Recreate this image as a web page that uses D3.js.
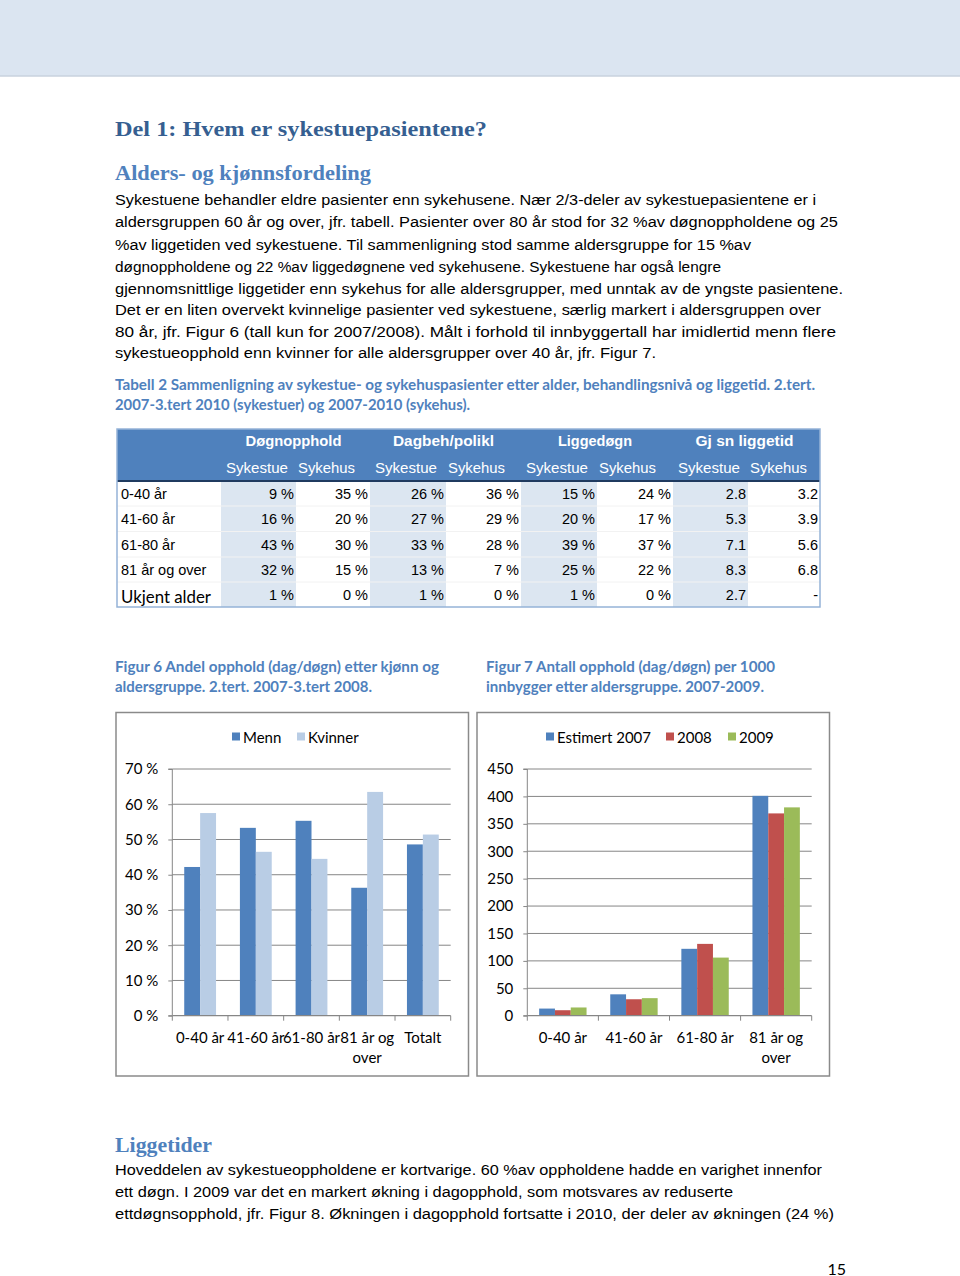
<!DOCTYPE html>
<html><head><meta charset="utf-8">
<script src="https://cdn.jsdelivr.net/npm/d3@7"></script>
<style>body{margin:0;background:#fff}svg{display:block}</style>
</head><body>
<script>
// ---------- DATA ----------
const heading1 = "Del 1: Hvem er sykestuepasientene?";
const heading2 = "Alders- og kjønnsfordeling";
const para1 = [
  "Sykestuene behandler eldre pasienter enn sykehusene. Nær 2/3-deler av sykestuepasientene er i",
  "aldersgruppen 60 år og over, jfr. tabell. Pasienter over 80 år stod for 32 %av døgnoppholdene og 25",
  "%av liggetiden ved sykestuene. Til sammenligning stod samme aldersgruppe for 15 %av",
  "døgnoppholdene og 22 %av liggedøgnene ved sykehusene. Sykestuene har også lengre",
  "gjennomsnittlige liggetider enn sykehus for alle aldersgrupper, med unntak av de yngste pasientene.",
  "Det er en liten overvekt kvinnelige pasienter ved sykestuene, særlig markert i aldersgruppen over",
  "80 år, jfr. Figur 6 (tall kun for 2007/2008). Målt i forhold til innbyggertall har imidlertid menn flere",
  "sykestueopphold enn kvinner for alle aldersgrupper over 40 år, jfr. Figur 7."
];
const tableCaption = [
  "Tabell 2 Sammenligning av sykestue- og sykehuspasienter etter alder, behandlingsnivå og liggetid. 2.tert.",
  "2007-3.tert 2010 (sykestuer) og 2007-2010 (sykehus)."
];
const tableGroups = ["Døgnopphold", "Dagbeh/polikl", "Liggedøgn", "Gj sn liggetid"];
const tableSub = ["Sykestue", "Sykehus"];
const tableRows = ["0-40 år", "41-60 år", "61-80 år", "81 år og over", "Ukjent alder"];
const tableValues = [
  ["9 %", "35 %", "26 %", "36 %", "15 %", "24 %", "2.8", "3.2"],
  ["16 %", "20 %", "27 %", "29 %", "20 %", "17 %", "5.3", "3.9"],
  ["43 %", "30 %", "33 %", "28 %", "39 %", "37 %", "7.1", "5.6"],
  ["32 %", "15 %", "13 %", "7 %", "25 %", "22 %", "8.3", "6.8"],
  ["1 %", "0 %", "1 %", "0 %", "1 %", "0 %", "2.7", "-"]
];
const fig6Caption = ["Figur 6 Andel opphold (dag/døgn) etter kjønn og", "aldersgruppe. 2.tert. 2007-3.tert 2008."];
const fig7Caption = ["Figur 7 Antall opphold (dag/døgn) per 1000", "innbygger etter aldersgruppe. 2007-2009."];
const fig6Categories = ["0-40 år", "41-60 år", "61-80 år", "81 år og over", "Totalt"];
const fig6Series = ["Menn", "Kvinner"];
const fig6Menn = [42.2, 53.3, 55.3, 36.3, 48.6];
const fig6Kvinner = [57.5, 46.5, 44.5, 63.5, 51.4];
const fig6Ticks = [0, 10, 20, 30, 40, 50, 60, 70];
const fig7Categories = ["0-40 år", "41-60 år", "61-80 år", "81 år og over"];
const fig7Series = ["Estimert 2007", "2008", "2009"];
const fig7Est2007 = [13, 39, 122, 401];
const fig7Y2008 = [10, 30, 131, 369];
const fig7Y2009 = [15, 32, 106, 380];
const fig7Ticks = [0, 50, 100, 150, 200, 250, 300, 350, 400, 450];
const heading3 = "Liggetider";
const para2 = [
  "Hoveddelen av sykestueoppholdene er kortvarige. 60 %av oppholdene hadde en varighet innenfor",
  "ett døgn. I 2009 var det en markert økning i dagopphold, som motsvares av reduserte",
  "ettdøgnsopphold, jfr. Figur 8. Økningen i dagopphold fortsatte i 2010, der deler av økningen (24 %)"
];
const pageNumber = "15";

// ---------- LAYOUT / STYLE ----------
const BODY = "'Liberation Sans Narrow','Liberation Sans',Arial,sans-serif";
const SANS = "'Liberation Sans',Arial,sans-serif";
const SERIF = "'Liberation Serif','DejaVu Serif',serif";
const CAL = "Lato,'Open Sans',sans-serif";
const C_BLUE = "#4f81bd", C_DARK = "#365f91", C_LIGHT = "#b9cde5", C_RED = "#c0504d", C_GREEN = "#9bbb59";

const svg = d3.select("body").append("svg").attr("width", 960).attr("height", 1276);

function txt(g, s, x, yc, o) {
  o = o || {};
  const t = g.append("text").attr("x", x).attr("y", yc)
    .attr("dominant-baseline", "central")
    .attr("font-family", o.font || BODY)
    .attr("font-size", o.size || 15)
    .attr("font-weight", o.weight || "normal")
    .attr("fill", o.fill || "#000")
    .attr("text-anchor", o.anchor || "start")
    .text(s);
  if (o.width) t.attr("textLength", o.width).attr("lengthAdjust", "spacingAndGlyphs");
  return t;
}

// top band
svg.append("rect").attr("x", 0).attr("y", 0).attr("width", 960).attr("height", 76).attr("fill", "#dbe5f1");
svg.append("line").attr("x1", 0).attr("x2", 960).attr("y1", 76).attr("y2", 76).attr("stroke", "#c8d2de").attr("stroke-width", 1.5);

// headings
txt(svg, heading1, 115, 128, {font: SERIF, size: 22, weight: "bold", fill: C_DARK, width: 372});
txt(svg, heading2, 115, 173, {font: SERIF, size: 21, weight: "bold", fill: C_BLUE, width: 256});

// paragraph 1
const p1Ends = [816, 838, 751, 721, 843, 821, 836, 656];
const p1Y = [199, 221, 244, 266, 288, 309, 331, 352];
para1.forEach((s, i) => txt(svg, s, 115, p1Y[i], {size: 15.5, width: p1Ends[i] - 115}));

// table caption
const tcEnds = [815, 470];
tableCaption.forEach((s, i) => txt(svg, s, 115, 384 + i * 20.5, {font: CAL, size: 14.5, weight: "bold", fill: C_BLUE, width: tcEnds[i] - 115}));

// ---------- TABLE ----------
const tg = svg.append("g");
const colEdges = [117, 221, 296, 370, 446, 521, 597, 673, 748, 820];
const rowEdges = [481, 506, 531.5, 557, 582, 607];
// header
tg.append("rect").attr("x", 117).attr("y", 429).attr("width", 703).attr("height", 52).attr("fill", C_BLUE);
// shaded columns
for (let k = 0; k < 4; k++) {
  tg.append("rect").attr("x", colEdges[1 + 2 * k]).attr("y", 481)
    .attr("width", colEdges[2 + 2 * k] - colEdges[1 + 2 * k]).attr("height", 126).attr("fill", "#dce6f1");
}
// row separators
rowEdges.slice(1, -1).forEach(y => tg.append("line").attr("x1", 117).attr("x2", 820).attr("y1", y).attr("y2", y).attr("stroke", "#f2f2f2").attr("stroke-width", 1));
// header bottom line
tg.append("line").attr("x1", 117).attr("x2", 820).attr("y1", 481).attr("y2", 481).attr("stroke", "#1f3a5f").attr("stroke-width", 2);
// outer border
tg.append("rect").attr("x", 117).attr("y", 429).attr("width", 703).attr("height", 178).attr("fill", "none").attr("stroke", "#95b3d7").attr("stroke-width", 1.5);
// group titles
const grpW = [96, 101, 74, 98];
tableGroups.forEach((s, k) => {
  const cx = (colEdges[1 + 2 * k] + colEdges[3 + 2 * k]) / 2 - 2;
  txt(tg, s, cx - grpW[k] / 2, 441, {font: SANS, size: 14.5, weight: "bold", fill: "#fff", width: grpW[k]});
});
// sub headers
for (let k = 0; k < 4; k++) {
  txt(tg, tableSub[0], colEdges[1 + 2 * k] + 5, 467.5, {font: SANS, size: 14.5, fill: "#fff", width: 62});
  txt(tg, tableSub[1], colEdges[2 + 2 * k] + 2, 467.5, {font: SANS, size: 14.5, fill: "#fff", width: 57});
}
// rows
tableRows.forEach((r, i) => {
  const yc = (rowEdges[i] + rowEdges[i + 1]) / 2 + 0.5;
  if (i === 4) txt(tg, r, 121, yc + 1, {font: CAL, size: 17, width: 90});
  else txt(tg, r, 121, yc, {font: SANS, size: 14.5});
  tableValues[i].forEach((v, j) => {
    txt(tg, v, colEdges[j + 2] - 2, yc, {font: SANS, size: 14.5, anchor: "end"});
  });
});

// captions for figures
const f6Ends = [439, 372], f7Ends = [775, 764];
fig6Caption.forEach((s, i) => txt(svg, s, 115, 666.5 + i * 19.5, {font: CAL, size: 14.5, weight: "bold", fill: C_BLUE, width: f6Ends[i] - 115}));
fig7Caption.forEach((s, i) => txt(svg, s, 486, 666.5 + i * 19.5, {font: CAL, size: 14.5, weight: "bold", fill: C_BLUE, width: f7Ends[i] - 486}));

// ---------- CHART helper ----------
function barChart(o) {
  const g = svg.append("g");
  g.append("rect").attr("x", o.frame[0]).attr("y", o.frame[1]).attr("width", o.frame[2]).attr("height", o.frame[3])
    .attr("fill", "#fff").attr("stroke", "#8a8a8a").attr("stroke-width", 1.5);
  const y = d3.scaleLinear().domain([0, o.max]).range([o.y0, o.y1]);
  const x = d3.scaleBand().domain(o.categories).range([o.x0, o.x1]).padding(0);
  const nS = o.series.length;
  const barW = x.step() / (nS + 1.5);
  const xs = d3.scaleBand().domain(o.series).range([0, barW * nS]).padding(0);
  // gridlines
  g.selectAll(".grid").data(o.ticks.filter(t => t > 0)).join("line")
    .attr("x1", o.x0).attr("x2", o.x1).attr("y1", d => y(d)).attr("y2", d => y(d))
    .attr("stroke", "#868686").attr("stroke-width", 1);
  // y axis
  const ax = d3.axisLeft(y).tickValues(o.ticks).tickSize(4).tickPadding(10).tickFormat(o.fmt);
  const ag = g.append("g").attr("transform", `translate(${o.x0},0)`).call(ax);
  ag.select(".domain").attr("stroke", "#868686").attr("d", `M-4,${o.y1}H0V${o.y0}H-4`);
  ag.selectAll(".tick line").attr("stroke", "#868686");
  ag.selectAll(".tick text").attr("font-family", CAL).attr("font-size", 15).attr("fill", "#000");
  // bars
  o.series.forEach((s, si) => {
    g.selectAll(null).data(o.values[si]).join("rect")
      .attr("x", (d, i) => x(o.categories[i]) + (x.step() - barW * nS) / 2 + xs(s))
      .attr("width", xs.bandwidth())
      .attr("y", d => y(d)).attr("height", d => y(0) - y(d))
      .attr("fill", o.colors[si]);
  });
  // x axis
  g.append("line").attr("x1", o.x0).attr("x2", o.x1).attr("y1", o.y0).attr("y2", o.y0).attr("stroke", "#868686").attr("stroke-width", 1.2);
  const bounds = o.categories.map(c => x(c)).concat([o.x1]);
  g.selectAll(null).data(bounds).join("line")
    .attr("x1", d => d).attr("x2", d => d).attr("y1", o.y0).attr("y2", o.y0 + 5).attr("stroke", "#868686");
  o.categories.forEach(c => {
    const lines = c.replace(" og over", " og\nover").split("\n");
    lines.forEach((l, li) => txt(g, l, x(c) + x.bandwidth() / 2, o.y0 + 21 + li * 20, {font: CAL, size: 15, anchor: "middle"}));
  });
  // legend
  o.series.forEach((s, si) => {
    g.append("rect").attr("x", o.legend[si]).attr("y", 732.5).attr("width", 8).attr("height", 8).attr("fill", o.colors[si]);
    txt(g, s, o.legend[si] + 11, 736.5, {font: CAL, size: 15});
  });
}

barChart({
  frame: [116, 712.5, 352.5, 363.5],
  categories: fig6Categories, series: fig6Series,
  values: [fig6Menn, fig6Kvinner], colors: [C_BLUE, C_LIGHT],
  max: 70, ticks: fig6Ticks, fmt: d => d + " %",
  x0: 172.3, x1: 450.7, y0: 1015.7, y1: 769,
  legend: [232, 297]
});
barChart({
  frame: [477, 712.5, 352.5, 363.5],
  categories: fig7Categories, series: fig7Series,
  values: [fig7Est2007, fig7Y2008, fig7Y2009], colors: [C_BLUE, C_RED, C_GREEN],
  max: 450, ticks: fig7Ticks, fmt: d => d,
  x0: 527.3, x1: 811.7, y0: 1015.7, y1: 769,
  legend: [546, 666, 728]
});

// bottom section
txt(svg, heading3, 115, 1145, {font: SERIF, size: 21, weight: "bold", fill: C_BLUE, width: 97});
const p2Ends = [822, 733, 834];
para2.forEach((s, i) => txt(svg, s, 115, 1169 + i * 22, {size: 15.5, width: p2Ends[i] - 115}));
txt(svg, pageNumber, 846, 1268, {font: CAL, size: 16, anchor: "end"});
</script>
</body></html>
